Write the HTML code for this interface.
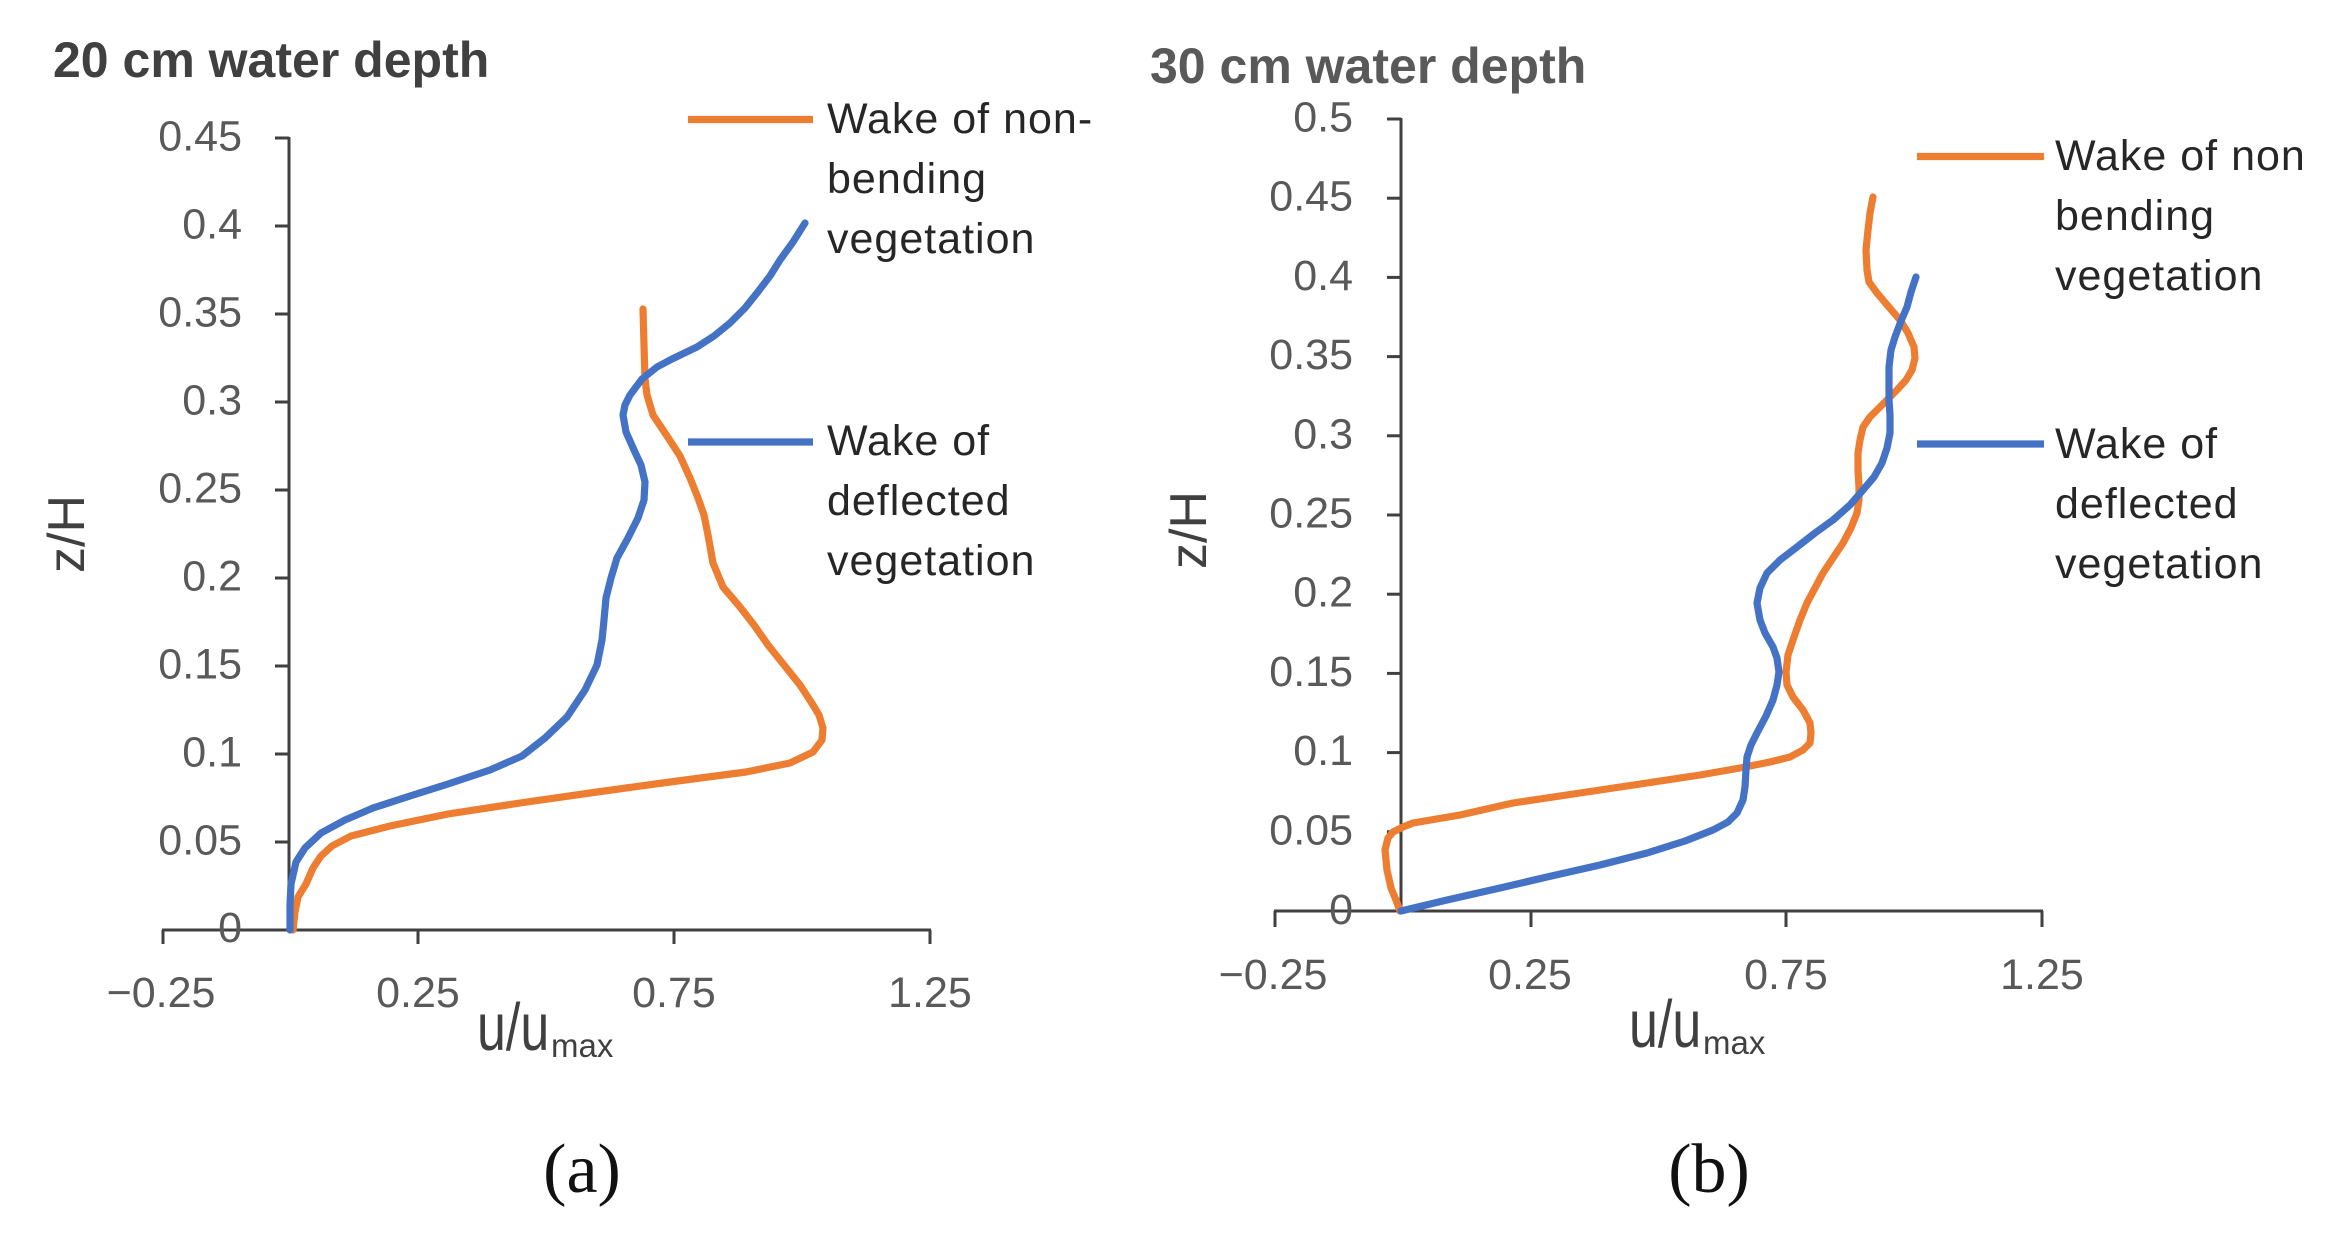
<!DOCTYPE html>
<html>
<head>
<meta charset="utf-8">
<style>
html,body{margin:0;padding:0;background:#fff;}
svg{display:block;}
.tk{font-family:"Liberation Sans",sans-serif;font-size:43px;fill:#595959;}
.lg{font-family:"Liberation Sans",sans-serif;font-size:43px;fill:#262626;letter-spacing:1px;}
.ttl{font-family:"Liberation Sans",sans-serif;font-size:50px;font-weight:bold;}
.ax{font-family:"Liberation Sans",sans-serif;fill:#404040;}
.cap{font-family:"Liberation Serif",serif;font-size:70px;fill:#111;}
.s{fill:none;stroke-width:7.2;stroke-linejoin:round;stroke-linecap:round;shape-rendering:geometricPrecision;}
</style>
</head>
<body>
<svg width="2341" height="1249" viewBox="0 0 2341 1249" xmlns="http://www.w3.org/2000/svg">
<rect width="2341" height="1249" fill="#fff"/>

<!-- ========== LEFT CHART ========== -->
<text class="ttl" x="53" y="77" fill="#404040">20 cm water depth</text>

<g stroke="#404040" stroke-width="3" fill="none">
  <line x1="289" y1="137" x2="289" y2="931"/>
  <line x1="162" y1="930" x2="931" y2="930"/>
  <line x1="275" y1="930" x2="289" y2="930"/>
  <line x1="275" y1="842" x2="289" y2="842"/>
  <line x1="275" y1="754" x2="289" y2="754"/>
  <line x1="275" y1="666" x2="289" y2="666"/>
  <line x1="275" y1="578" x2="289" y2="578"/>
  <line x1="275" y1="490" x2="289" y2="490"/>
  <line x1="275" y1="402" x2="289" y2="402"/>
  <line x1="275" y1="314" x2="289" y2="314"/>
  <line x1="275" y1="226" x2="289" y2="226"/>
  <line x1="275" y1="138" x2="289" y2="138"/>
  <line x1="163" y1="930" x2="163" y2="944"/>
  <line x1="418" y1="930" x2="418" y2="944"/>
  <line x1="674" y1="930" x2="674" y2="944"/>
  <line x1="930" y1="930" x2="930" y2="944"/>
</g>

<g class="tk" text-anchor="end">
  <text x="242" y="942">0</text>
  <text x="242" y="854.5">0.05</text>
  <text x="242" y="766.5">0.1</text>
  <text x="242" y="678.5">0.15</text>
  <text x="242" y="590.5">0.2</text>
  <text x="242" y="502.5">0.25</text>
  <text x="242" y="414.5">0.3</text>
  <text x="242" y="326.5">0.35</text>
  <text x="242" y="238.5">0.4</text>
  <text x="242" y="150.5">0.45</text>
</g>
<g class="tk" text-anchor="middle">
  <text x="161" y="1007">−0.25</text>
  <text x="418" y="1007">0.25</text>
  <text x="674" y="1007">0.75</text>
  <text x="930" y="1007">1.25</text>
</g>

<text class="ax" font-size="52" text-anchor="middle" transform="translate(84,534) rotate(-90)">z/H</text>
<g transform="translate(477,1050) scale(1,1.28)">
  <text class="ax" font-size="52" x="0" y="0">u/u</text>
</g>
<text class="ax" font-size="33" x="551" y="1057">max</text>

<polyline class="s" stroke="#ED7D31"
 points="293,930 295,912 298,897 306,884 313,868 321,856 332,846 351,836 390,826 448,814 520,803 597,792 670,782 746,772 790,763 813,752 822,740 823,728 819,715 813,705 800,685 784,665 768,645 754,625 740,607 723,587 713,563 708,535 704,515 698,498 690,478 680,456 667,436 653,415 647,395 645,379 644,345 643,309"/>
<polyline class="s" stroke="#4472C4"
 points="290,930 290,905 291,884 296,862 305,848 321,833 345,820 373,808 410,796 448,784 490,770 522,756 545,738 567,717 585,690 597,665 602,640 604,620 606,598 611,578 617,558 628,538 638,518 644,500 645,482 641,465 634,450 626,432 623,415 625,405 630,395 642,379 657,367 672,359 697,347 714,336 730,323 745,308 757,293 770,276 780,260 793,242 805,223"/>

<line x1="688" y1="119.5" x2="813" y2="119.5" stroke="#ED7D31" stroke-width="7.2"/>
<text class="lg" x="827" y="133">Wake of non-</text>
<text class="lg" x="827" y="193">bending</text>
<text class="lg" x="827" y="253">vegetation</text>
<line x1="688" y1="442" x2="813" y2="442" stroke="#4472C4" stroke-width="7.2"/>
<text class="lg" x="827" y="455">Wake of</text>
<text class="lg" x="827" y="515">deflected</text>
<text class="lg" x="827" y="575">vegetation</text>

<text class="cap" x="582" y="1192" text-anchor="middle">(a)</text>

<!-- ========== RIGHT CHART ========== -->
<text class="ttl" x="1150" y="83" fill="#595959">30 cm water depth</text>

<g stroke="#404040" stroke-width="3" fill="none">
  <line x1="1401" y1="118" x2="1401" y2="912"/>
  <line x1="1274" y1="911" x2="2043" y2="911"/>
  <line x1="1387" y1="911" x2="1401" y2="911"/>
  <line x1="1387" y1="831.8" x2="1401" y2="831.8"/>
  <line x1="1387" y1="752.6" x2="1401" y2="752.6"/>
  <line x1="1387" y1="673.4" x2="1401" y2="673.4"/>
  <line x1="1387" y1="594.2" x2="1401" y2="594.2"/>
  <line x1="1387" y1="515" x2="1401" y2="515"/>
  <line x1="1387" y1="435.8" x2="1401" y2="435.8"/>
  <line x1="1387" y1="356.6" x2="1401" y2="356.6"/>
  <line x1="1387" y1="277.4" x2="1401" y2="277.4"/>
  <line x1="1387" y1="198.2" x2="1401" y2="198.2"/>
  <line x1="1387" y1="119" x2="1401" y2="119"/>
  <line x1="1275" y1="911" x2="1275" y2="927"/>
  <line x1="1531" y1="911" x2="1531" y2="927"/>
  <line x1="1786" y1="911" x2="1786" y2="927"/>
  <line x1="2042" y1="911" x2="2042" y2="927"/>
</g>

<g class="tk" text-anchor="end">
  <text x="1353" y="924">0</text>
  <text x="1353" y="844.3">0.05</text>
  <text x="1353" y="765.1">0.1</text>
  <text x="1353" y="685.9">0.15</text>
  <text x="1353" y="606.7">0.2</text>
  <text x="1353" y="527.5">0.25</text>
  <text x="1353" y="448.3">0.3</text>
  <text x="1353" y="369.1">0.35</text>
  <text x="1353" y="289.9">0.4</text>
  <text x="1353" y="210.7">0.45</text>
  <text x="1353" y="131.5">0.5</text>
</g>
<g class="tk" text-anchor="middle">
  <text x="1273" y="989">−0.25</text>
  <text x="1530" y="989">0.25</text>
  <text x="1786" y="989">0.75</text>
  <text x="2042" y="989">1.25</text>
</g>

<text class="ax" font-size="52" text-anchor="middle" transform="translate(1206,530) rotate(-90)">z/H</text>
<g transform="translate(1629,1047) scale(1,1.28)">
  <text class="ax" font-size="52" x="0" y="0">u/u</text>
</g>
<text class="ax" font-size="33" x="1703" y="1054">max</text>

<polyline class="s" stroke="#ED7D31"
 points="1400,911 1396,900 1391,888 1387,870 1385,850 1388,838 1393,832 1403,827 1413,823 1460,815 1513,803 1580,793 1647,783 1700,775 1740,768 1770,762 1790,757 1803,750 1810,743 1811,733 1810,723 1803,710 1793,697 1787,685 1786,672 1788,655 1793,640 1800,620 1807,603 1815,588 1823,573 1833,558 1843,543 1851,528 1857,513 1859,500 1859,487 1858,470 1858,453 1860,440 1863,427 1870,417 1880,407 1889,398 1897,390 1906,380 1912,370 1915,358 1914,347 1908,333 1900,320 1888,306 1877,293 1869,282 1867,270 1866,250 1868,230 1870,213 1873,197"/>
<polyline class="s" stroke="#4472C4"
 points="1401,911 1447,900 1500,888 1547,877 1600,865 1647,853 1685,841 1713,830 1728,822 1737,813 1743,800 1745,787 1746,770 1747,757 1751,745 1757,733 1766,716 1773,700 1777,685 1779,672 1777,658 1773,647 1765,633 1760,620 1757,603 1760,588 1767,573 1780,560 1797,547 1815,533 1833,520 1850,505 1863,490 1874,477 1882,463 1887,448 1890,433 1890,415 1889,400 1889,383 1889,367 1891,350 1895,337 1901,321 1907,307 1911,292 1916,277"/>

<line x1="1917" y1="156.5" x2="2044" y2="156.5" stroke="#ED7D31" stroke-width="7.2"/>
<text class="lg" x="2055" y="170">Wake of non</text>
<text class="lg" x="2055" y="230">bending</text>
<text class="lg" x="2055" y="290">vegetation</text>
<line x1="1917" y1="444" x2="2044" y2="444" stroke="#4472C4" stroke-width="7.2"/>
<text class="lg" x="2055" y="458">Wake of</text>
<text class="lg" x="2055" y="518">deflected</text>
<text class="lg" x="2055" y="578">vegetation</text>

<text class="cap" x="1709" y="1192" text-anchor="middle">(b)</text>
</svg>
</body>
</html>
